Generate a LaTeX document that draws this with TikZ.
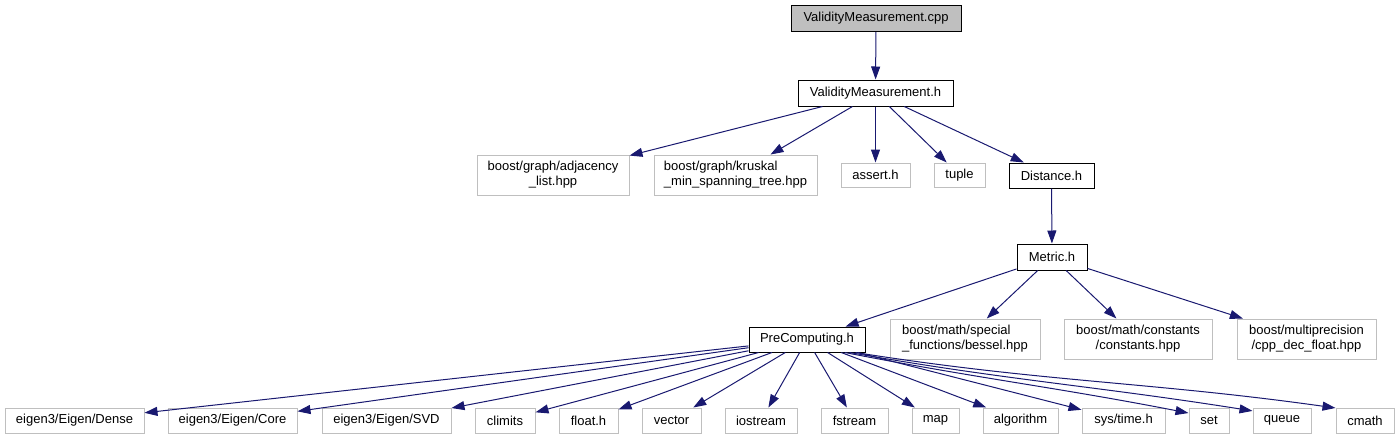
\documentclass[tikz,border=0pt]{standalone}
\usepackage{fontspec}
\setmainfont{Liberation Sans}
\usetikzlibrary{arrows.meta}
\definecolor{edgecol}{HTML}{191970}
\definecolor{grayb}{HTML}{BFBFBF}
\begin{document}
\begin{tikzpicture}[x=1pt,y=1pt,
  box/.style={rectangle, inner sep=0pt, font=\fontsize{13}{15}\selectfont, line width=1pt, align=center},
  ext/.style={box, draw=grayb},
  own/.style={box, draw=black},
  root/.style={box, draw=black, fill=grayb},
  wh/.style 2 args={minimum width=#1pt, minimum height=#2pt},
  edge/.style={draw=edgecol, line width=1pt, -{Triangle[length=13pt,width=9pt]}}]
\useasboundingbox (0,0) rectangle (1400,-440);
% nodes
\node[root, wh={170}{26}] (cpp) at (876,-18.5) {ValidityMeasurement.cpp};
\node[own, wh={155}{26}] (vmh) at (875.5,-93) {ValidityMeasurement.h};
\node[ext, wh={152}{40}] (adj) at (553,-175) {boost/graph/adjacency\\\_list.hpp};
\node[ext, wh={163}{40}, align=left] (krus) at (735.5,-175) {boost/graph/kruskal\\\_min\_spanning\_tree.hpp};
\node[ext, wh={69}{24}] (assert) at (875.5,-175) {assert.h};
\node[ext, wh={51}{24}] (tuple) at (959.5,-175) {tuple};
\node[own, wh={85}{25}] (dist) at (1051.5,-175.5) {Distance.h};
\node[own, wh={70}{26}] (metric) at (1052,-257) {Metric.h};
\node[own, wh={116}{25}] (pre) at (807,-339.5) {PreComputing.h};
\node[ext, wh={150}{40}, align=left] (bessel) at (965,-339) {boost/math/special\\\_functions/bessel.hpp};
\node[ext, wh={148}{40}] (const) at (1138,-339) {boost/math/constants\\/constants.hpp};
\node[ext, wh={139}{40}] (multi) at (1306.5,-339) {boost/multiprecision\\/cpp\_dec\_float.hpp};
\node[ext, wh={139}{25}] (dense) at (74.5,-420.5) {eigen3/Eigen/Dense};
\node[ext, wh={129}{25}] (core) at (232.5,-420.5) {eigen3/Eigen/Core};
\node[ext, wh={129}{25}] (svd) at (386.5,-420.5) {eigen3/Eigen/SVD};
\node[ext, wh={60}{25}] (climits) at (505,-420.5) {climits};
\node[ext, wh={59}{25}] (float) at (588.5,-420.5) {float.h};
\node[ext, wh={59}{25}] (vector) at (671.5,-420.5) {vector};
\node[ext, wh={72}{25}] (iostream) at (761,-420.5) {iostream};
\node[ext, wh={67}{25}] (fstream) at (854.5,-420.5) {fstream};
\node[ext, wh={47}{25}] (map) at (935.5,-420.5) {map};
\node[ext, wh={75}{25}] (algorithm) at (1020.5,-420.5) {algorithm};
\node[ext, wh={83}{25}] (systime) at (1123.5,-420.5) {sys/time.h};
\node[ext, wh={40}{25}] (set) at (1209,-420.5) {set};
\node[ext, wh={58}{25}] (queue) at (1282,-420.5) {queue};
\node[ext, wh={58}{25}] (cmath) at (1365,-420.5) {cmath};
% edges
\draw[edge] (cpp) -- (vmh);
\draw[edge] (vmh) -- (adj);
\draw[edge] (vmh) -- (krus);
\draw[edge] (vmh) -- (assert);
\draw[edge] (vmh) -- (tuple);
\draw[edge] (vmh) -- (dist);
\draw[edge] (dist) -- (metric);
\draw[edge] (metric) -- (pre);
\draw[edge] (metric) -- (bessel);
\draw[edge] (metric) -- (const);
\draw[edge] (metric) -- (multi);
\draw[edge] (pre) -- (dense);
\draw[edge] (pre) -- (core);
\draw[edge] (pre) -- (svd);
\draw[edge] (pre) -- (climits);
\draw[edge] (pre) -- (float);
\draw[edge] (pre) -- (vector);
\draw[edge] (pre) -- (iostream);
\draw[edge] (pre) -- (fstream);
\draw[edge] (pre) -- (map);
\draw[edge] (pre) -- (algorithm);
\draw[edge] (pre) -- (systime);
\draw[edge] (pre.-19) to[out=-11, in=169] (set.160);
\draw[edge] (pre.-17) to[out=-10, in=171] (queue.162);
\draw[edge] (pre.-15) to[out=-9, in=172] (cmath.157);
\end{tikzpicture}
\end{document}
